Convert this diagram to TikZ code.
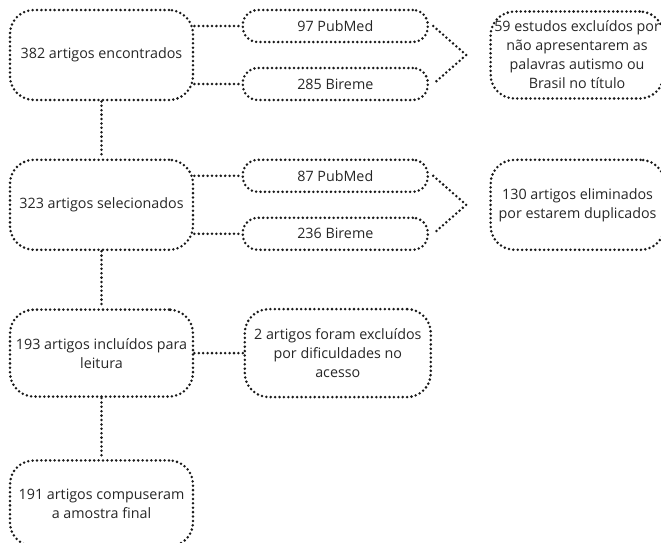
\documentclass[tikz,border=0pt]{standalone}
\usepackage{fontspec}
\setmainfont{Open Sans}
\usetikzlibrary{positioning}

\begin{document}
\begin{tikzpicture}[
    dots/.style={line width=2.8pt, line cap=round, dash pattern=on 0pt off 4.4pt, draw=black!90},
    box/.style={dots, rounded corners=24pt, align=center, inner sep=0.5pt, font=\fontsize{14.3}{19}\selectfont, text=black!85},
    big/.style={box, minimum width=183pt, minimum height=90pt},
    base/.style={box, rounded corners=15pt, minimum width=185pt, minimum height=32pt},
    side/.style={box, minimum width=173pt, minimum height=87pt},
    link/.style={dots}]
    \useasboundingbox (0,0) rectangle (661pt,-542pt);
    \node[big] (a) at (101.5pt,-55pt) {382 artigos encontrados};
    \node[big, below=57pt of a] (b) {323 artigos selecionados};
    \node[big, minimum height=87pt, below=57pt of b] (c) {193 artigos incluídos para\\leitura};
    \node[big, minimum height=86pt, below=61pt of c] (d) {191 artigos compuseram\\a amostra final};
    \node[base, right=47pt of a.north east, anchor=north west] (pub1) {97 PubMed};
    \node[base, right=47pt of a.south east, anchor=south west] (bir1) {285 Bireme};
    \node[base, right=47pt of b.north east, anchor=north west] (pub2) {87 PubMed};
    \node[base, right=47pt of b.south east, anchor=south west] (bir2) {236 Bireme};
    \path (pub1.east) -- (bir1.east) coordinate[midway, xshift=37pt] (v1);
    \path (pub2.east) -- (bir2.east) coordinate[midway, xshift=37pt] (v2);
    \node[side, right=23pt of v1] (exc1) {59 estudos excluídos por\\não apresentarem as\\palavras autismo ou\\Brasil no título};
    \node[side, minimum width=174pt, minimum height=90pt, right=23pt of v2] (exc2) {130 artigos eliminados\\por estarem duplicados};
    \node[big, minimum width=186pt, minimum height=88pt, right=49pt of c] (exc3) {2 artigos foram excluídos\\por dificuldades no\\acesso};
    \draw[link] (a) -- (b);
    \draw[link] (b) -- (c);
    \draw[link] (c) -- (d);
    \draw[link] (pub1.west -| a.east) -- (pub1.west);
    \draw[link] (bir1.west -| a.east) -- (bir1.west);
    \draw[link] (pub2.west -| b.east) -- (pub2.west);
    \draw[link] (bir2.west -| b.east) -- (bir2.west);
    \draw[link] ([xshift=4pt]pub1.east) -- (v1) -- ([xshift=4pt]bir1.east);
    \draw[link] ([xshift=4pt]pub2.east) -- (v2) -- ([xshift=4pt]bir2.east);
    \draw[link] (c) -- (exc3);
\end{tikzpicture}
\end{document}
